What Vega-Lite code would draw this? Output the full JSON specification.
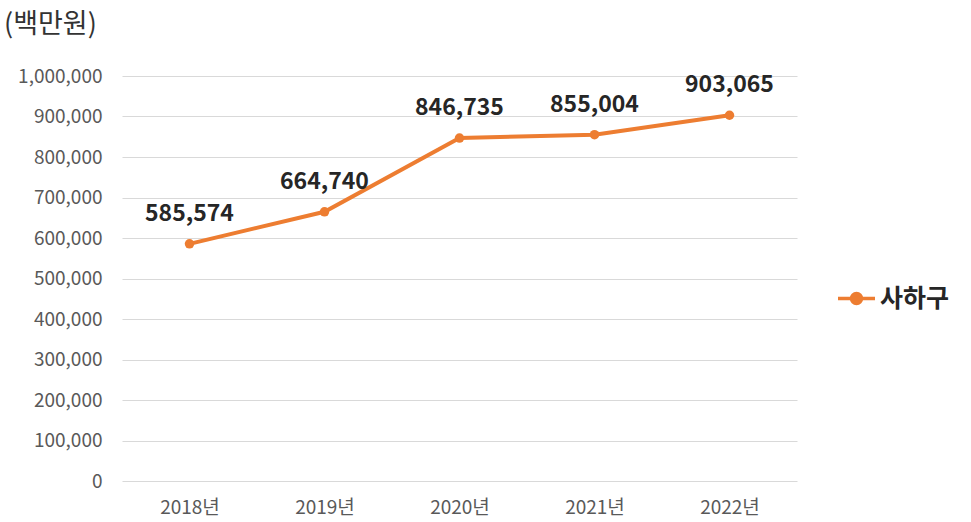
{
  "$schema": "https://vega.github.io/schema/vega-lite/v6.json",
  "width": 675,
  "height": 405,
  "autosize": {"type": "none"},
  "padding": {"left": 122, "top": 76, "right": 174, "bottom": 41},
  "background": "white",
  "title": {
    "text": "(백만원)",
    "anchor": "start",
    "frame": "group",
    "dx": -118,
    "offset": 28,
    "fontSize": 27,
    "fontWeight": "normal",
    "font": "Noto Sans CJK KR",
    "color": "#333333"
  },
  "data": {
    "values": [
      {"year": "2018년", "value": 585574, "series": "사하구"},
      {"year": "2019년", "value": 664740, "series": "사하구"},
      {"year": "2020년", "value": 846735, "series": "사하구"},
      {"year": "2021년", "value": 855004, "series": "사하구"},
      {"year": "2022년", "value": 903065, "series": "사하구"}
    ]
  },
  "config": {
    "view": {"stroke": null},
    "font": "Noto Sans CJK KR"
  },
  "encoding": {
    "x": {
      "field": "year",
      "type": "ordinal",
      "scale": {"type": "point", "padding": 0.5},
      "axis": {
        "title": null,
        "labelAngle": 0,
        "domain": false,
        "ticks": false,
        "labelPadding": 17,
        "labelFontSize": 19,
        "labelColor": "#595959",
        "labelFont": "Noto Sans CJK KR"
      }
    },
    "y": {
      "field": "value",
      "type": "quantitative",
      "scale": {"domain": [0, 1000000], "nice": false},
      "axis": {
        "title": null,
        "labelExpr": "format(datum.value, ',')",
        "values": [0, 100000, 200000, 300000, 400000, 500000, 600000, 700000, 800000, 900000, 1000000],
        "domain": false,
        "ticks": false,
        "labelPadding": 20,
        "labelFontSize": 19,
        "labelColor": "#595959",
        "labelFont": "Noto Sans CJK KR",
        "gridColor": "#d9d9d9",
        "gridWidth": 1
      }
    }
  },
  "layer": [
    {
      "mark": {"type": "line", "strokeWidth": 4, "color": "#ED7D31"},
      "encoding": {
        "color": {
          "field": "series",
          "type": "nominal",
          "scale": {"range": ["#ED7D31"]},
          "legend": {
            "title": null,
            "orient": "none",
            "legendX": 714,
            "legendY": 202,
            "symbolType": "M-1,0H1M-0.27,0A0.27,0.27 0 1,1 0.27,0A0.27,0.27 0 1,1 -0.27,0Z",
            "symbolSize": 1369,
            "symbolStrokeWidth": 3.5,
            "symbolFillColor": "#ED7D31",
            "symbolStrokeColor": "#ED7D31",
            "labelFontSize": 25,
            "labelFontWeight": "bold",
            "labelColor": "#262626",
            "labelOffset": 3,
            "labelFont": "Noto Sans CJK KR"
          }
        }
      }
    },
    {
      "mark": {"type": "point", "filled": true, "size": 90, "opacity": 1, "color": "#ED7D31"}
    },
    {
      "mark": {
        "type": "text",
        "dy": -18,
        "baseline": "bottom",
        "fontSize": 23,
        "fontWeight": "bold",
        "color": "#262626",
        "font": "Noto Sans CJK KR"
      },
      "encoding": {
        "text": {"field": "value", "type": "quantitative", "format": ","}
      }
    }
  ]
}
